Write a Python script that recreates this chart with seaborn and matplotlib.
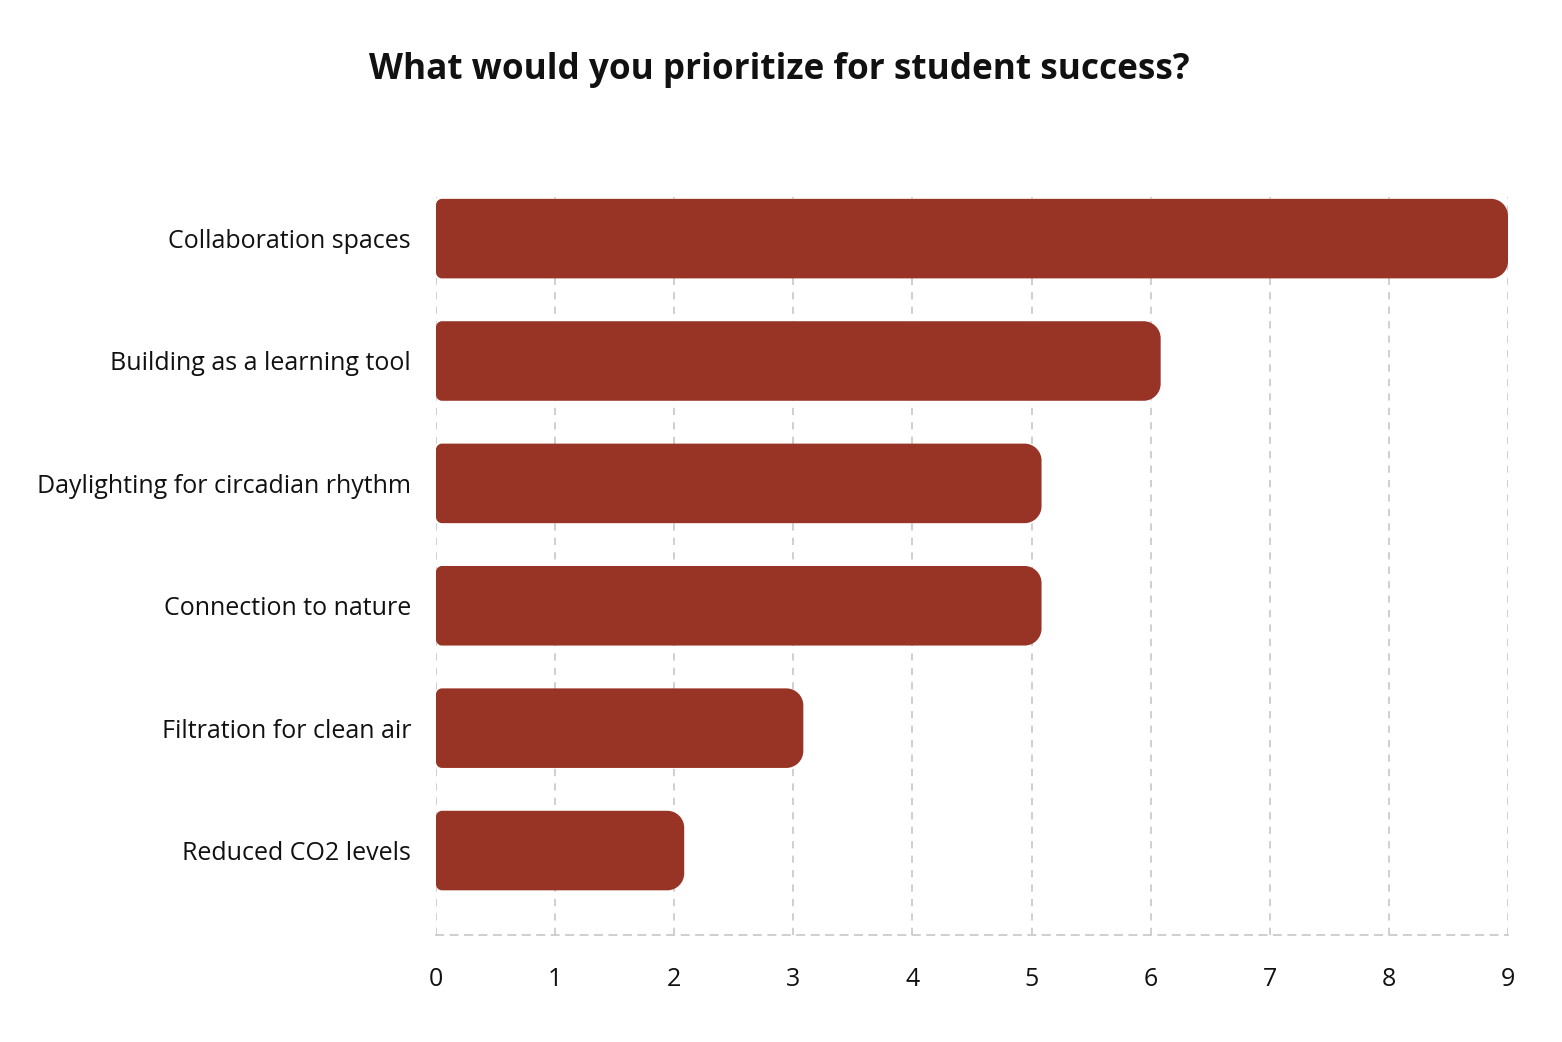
import matplotlib
matplotlib.use("Agg")
import matplotlib.pyplot as plt
from matplotlib.patches import PathPatch
from matplotlib.path import Path
import seaborn as sns
import pandas as pd

categories = ["Collaboration spaces", "Building as a learning tool",
              "Daylighting for circadian rhythm", "Connection to nature",
              "Filtration for clean air", "Reduced CO2 levels"]
values = [9, 6, 5, 5, 3, 2]
xticks = [0, 1, 2, 3, 4, 5, 6, 7, 8, 9]
title = "What would you prioritize for student success?"

bar_color = "#983426"
grid_color = "#cccccc"

sns.set_theme(style="white")
plt.rcParams["font.family"] = ["Open Sans", "DejaVu Sans"]

df = pd.DataFrame({"category": categories, "value": values})

fig = plt.figure(figsize=(15.62, 10.42), dpi=100)
ax = fig.add_axes([436/1562, 1 - 935/1042, (1508-436)/1562, (935-197)/1042])

sns.barplot(data=df, x="value", y="category", orient="h", color=bar_color,
            width=0.65, ax=ax, saturation=1)

xmax = 9
ax.set_xlim(0, xmax)
ax.set_ylim(5.69, -0.34)

# pixel -> data scale
px_x = xmax / (1508 - 436)
px_y = 6.03 / (935 - 197)
K = 0.5523


def rounded_bar(x0, y0, w, h, r_left_px, r_right_px):
    y1 = y0 + h
    x1 = x0 + w
    lx, ly = r_left_px * px_x, r_left_px * px_y
    rx, ry = r_right_px * px_x, r_right_px * px_y
    verts = [
        (x0 + lx, y0),
        (x1 - rx, y0),
        (x1 - rx + K * rx, y0), (x1, y0 + ry - K * ry), (x1, y0 + ry),
        (x1, y1 - ry),
        (x1, y1 - ry + K * ry), (x1 - rx + K * rx, y1), (x1 - rx, y1),
        (x0 + lx, y1),
        (x0 + lx - K * lx, y1), (x0, y1 - ly + K * ly), (x0, y1 - ly),
        (x0, y0 + ly),
        (x0, y0 + ly - K * ly), (x0 + lx - K * lx, y0), (x0 + lx, y0),
        (x0 + lx, y0),
    ]
    codes = [Path.MOVETO, Path.LINETO,
             Path.CURVE4, Path.CURVE4, Path.CURVE4,
             Path.LINETO,
             Path.CURVE4, Path.CURVE4, Path.CURVE4,
             Path.LINETO,
             Path.CURVE4, Path.CURVE4, Path.CURVE4,
             Path.LINETO,
             Path.CURVE4, Path.CURVE4, Path.CURVE4,
             Path.CLOSEPOLY]
    return Path(verts, codes)


cap_ext = 10 * px_x  # rounded cap reaches slightly past the value
for p in list(ax.patches):
    x0, y0 = p.get_x(), p.get_y()
    w, h = p.get_width(), p.get_height()
    p.remove()
    w_draw = min(w + cap_ext, xmax - x0)
    path = rounded_bar(x0, y0, w_draw, h, 6, 17)
    ax.add_patch(PathPatch(path, facecolor=bar_color, edgecolor="none", zorder=3))

ax.set_xticks(xticks)
ax.set_xticklabels([str(t) for t in xticks])
ax.set_xlabel("")
ax.set_ylabel("")

for t in xticks:
    ax.axvline(t, color=grid_color, linestyle=(0, (4, 4)), linewidth=1.3, zorder=1)

for s in ["top", "right", "left"]:
    ax.spines[s].set_visible(False)
ax.spines["bottom"].set_color(grid_color)
ax.spines["bottom"].set_linestyle((0, (4, 4)))
ax.spines["bottom"].set_linewidth(1.3)

ax.tick_params(axis="x", length=0, pad=23, labelsize=18, colors="#111111")
ax.tick_params(axis="y", length=0, pad=18, labelsize=18, colors="#111111")

fig.text(779/1562, 1 - 70/1042, title, ha="center", va="center",
         fontsize=25.3, fontweight="bold", color="#111111")

fig.savefig("out.png", dpi=100, facecolor="white")
